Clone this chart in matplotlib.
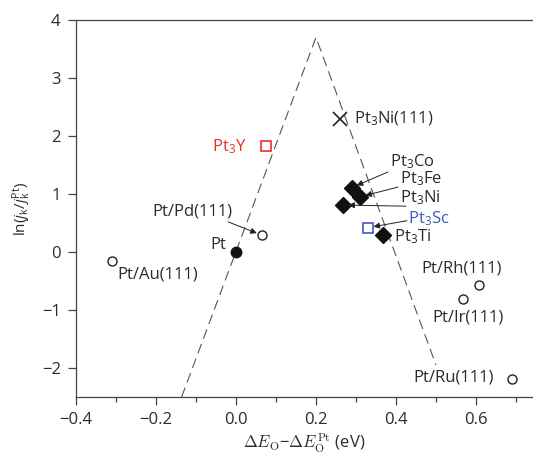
import matplotlib
matplotlib.use('Agg')
import matplotlib.pyplot as plt

plt.rcParams['font.family'] = ['Open Sans', 'DejaVu Sans']
plt.rcParams['mathtext.fontset'] = 'custom'
plt.rcParams['mathtext.rm'] = 'Open Sans'
plt.rcParams['mathtext.it'] = 'Open Sans:italic'

# open circles: Pt overlayers on other metals
overlayer_names = ['Pt/Au(111)', 'Pt/Pd(111)', 'Pt/Rh(111)', 'Pt/Ir(111)', 'Pt/Ru(111)']
overlayer_x = [-0.31, 0.065, 0.607, 0.567, 0.69]
overlayer_y = [-0.16, 0.29, -0.57, -0.81, -2.19]

# filled diamonds: Pt3M alloys
alloy_names = ['Pt$_3$Co', 'Pt$_3$Fe', 'Pt$_3$Ni', 'Pt$_3$Ti']
alloy_x = [0.289, 0.31, 0.267, 0.368]
alloy_y = [1.11, 0.95, 0.81, 0.30]

# other points
pt_x, pt_y = 0.0, 0.0
pt3y_x, pt3y_y = 0.075, 1.82
pt3sc_x, pt3sc_y = 0.33, 0.42
pt3ni111_x, pt3ni111_y = 0.26, 2.3

# volcano lines
volcano_x = [-0.136, 0.2, 0.5]
volcano_y = [-2.5, 3.7, -1.95]

fig = plt.figure(figsize=(5.33, 4.59), dpi=100)
ax = fig.add_axes([76 / 533, 62 / 459, 457 / 533, 377 / 459])

txt = '#2b2b2b'
ax.plot(volcano_x, volcano_y, color='#555555', lw=0.8, dashes=(9, 5))

ax.plot(overlayer_x, overlayer_y, 'o', ms=6.5, mfc='white', mec='#222222', mew=1.0, ls='none')
ax.plot(alloy_x, alloy_y, 'D', ms=8, color='#111111', ls='none')
ax.plot([pt_x], [pt_y], 'o', ms=7.5, color='#111111')
ax.plot([pt3y_x], [pt3y_y], 's', ms=7, mfc='white', mec='#e8302a', mew=1.2)
ax.plot([pt3sc_x], [pt3sc_y], 's', ms=7, mfc='white', mec='#3a5cb8', mew=1.2)
ax.plot([pt3ni111_x], [pt3ni111_y], 'x', ms=10, color='#222222', mew=1.2)

fs = 12
arrow = dict(arrowstyle='-|>', lw=0.7, color='#222222', mutation_scale=9, shrinkA=0, shrinkB=4)

# labels without arrows
ax.text(-0.2975, -0.38, 'Pt/Au(111)', fontsize=fs, color=txt, ha='left', va='center')
ax.text(0.565, -0.28, 'Pt/Rh(111)', fontsize=fs, color=txt, ha='center', va='center')
ax.text(0.58, -1.13, 'Pt/Ir(111)', fontsize=fs, color=txt, ha='center', va='center')
ax.text(0.645, -2.16, 'Pt/Ru(111)', fontsize=fs, color=txt, ha='right', va='center')
ax.text(-0.025, 0.12, 'Pt', fontsize=fs, color=txt, ha='right', va='center')
ax.text(0.0275, 1.82, 'Pt$_3$Y', fontsize=fs, color='#e8302a', ha='right', va='center')
ax.text(0.295, 2.3, 'Pt$_3$Ni(111)', fontsize=fs, color=txt, ha='left', va='center')
ax.text(0.395, 0.26, 'Pt$_3$Ti', fontsize=fs, color=txt, ha='left', va='center')

# labels with arrows
ax.text(-0.108, 0.70, 'Pt/Pd(111)', fontsize=fs, color=txt, ha='center', va='center')
ax.annotate('', xy=(overlayer_x[1], overlayer_y[1]), xytext=(-0.02, 0.52), arrowprops=arrow)

label_pos = [(0.385, 1.56), (0.41, 1.26), (0.41, 0.93)]
arrow_start = [(0.38, 1.38), (0.405, 1.12), (0.425, 0.79)]
for i in range(3):
    ax.text(label_pos[i][0], label_pos[i][1], alloy_names[i], fontsize=fs, color=txt,
            ha='left', va='center')
    ax.annotate('', xy=(alloy_x[i], alloy_y[i]), xytext=arrow_start[i], arrowprops=arrow)

ax.text(0.43, 0.57, 'Pt$_3$Sc', fontsize=fs, color='#3a5cb8', ha='left', va='center')
ax.annotate('', xy=(pt3sc_x, pt3sc_y), xytext=(0.4275, 0.54), arrowprops=arrow)

ax.set_xlim(-0.4, -0.4 + 457 / 400)
ax.set_ylim(-2.5, 4)
ax.set_xticks([-0.4, -0.2, 0.0, 0.2, 0.4, 0.6])
ax.set_xticklabels(['\u22120.4', '\u22120.2', '0.0', '0.2', '0.4', '0.6'])
ax.set_xticks([-0.3, -0.1, 0.1, 0.3, 0.5, 0.7], minor=True)
ax.set_yticks([-2, -1, 0, 1, 2, 3, 4])
ax.set_yticklabels(['\u22122', '\u22121', '0', '1', '2', '3', '4'])
ax.tick_params(axis='both', which='major', direction='out', length=6, width=0.9,
               labelsize=fs, colors='#444444', labelcolor=txt, pad=5)
ax.tick_params(axis='x', which='minor', direction='out', length=3.5, width=0.9, colors='#444444')
ax.spines['right'].set_visible(False)
for s in ['left', 'bottom', 'top']:
    ax.spines[s].set_color('#444444')
    ax.spines[s].set_linewidth(0.9)

ax.set_xlabel('$\\Delta E_\\mathrm{O}$\u2212$\\Delta E_\\mathrm{O}^\\mathrm{Pt}$ (eV)',
              fontsize=fs, color=txt, labelpad=3, math_fontfamily='cm')
ax.set_ylabel(r'ln($j_\mathrm{k}/j_\mathrm{k}^\mathrm{Pt}$)', fontsize=fs - 1, color=txt, labelpad=6)

fig.savefig('out.png', dpi=100)
